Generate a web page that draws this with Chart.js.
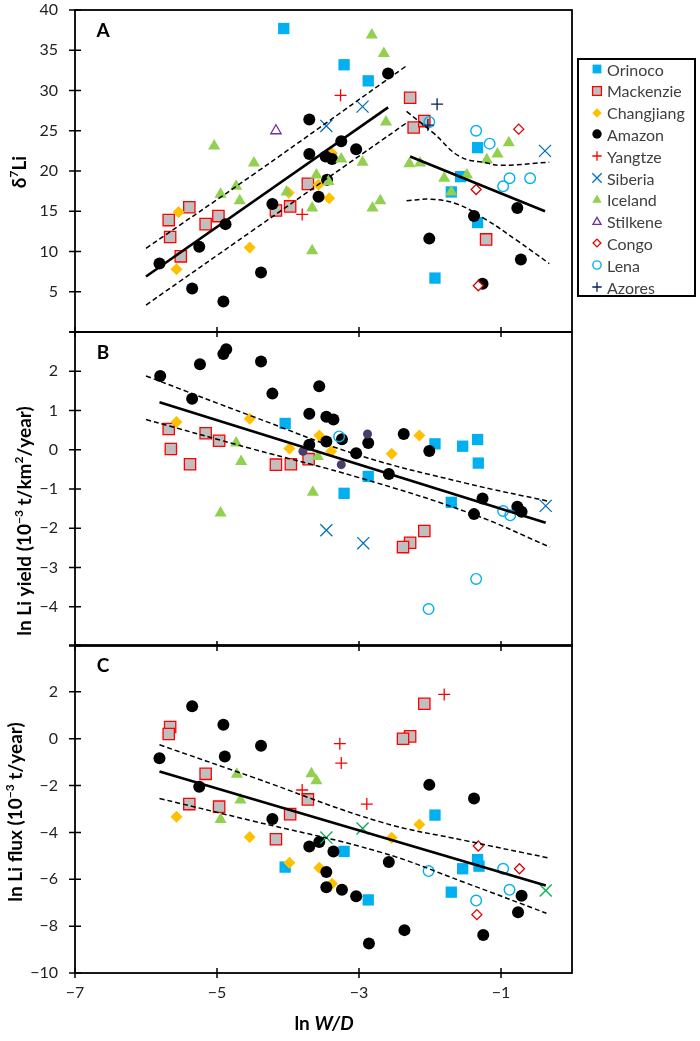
<!DOCTYPE html>
<html lang="en">

<head>
    <meta charset="UTF-8">
    <meta name="viewport" content="width=device-width, initial-scale=1.0">
    <title>Li vs ln W/D</title>

    <style>
        body {
            margin: 0;
            background: #fff;
        }

        .wrap {
            position: relative;
            width: 700px;
            height: 1041px;
            font-family: Lato, "Open Sans", sans-serif;
        }

        .wrap canvas {
            position: absolute;
            left: 0;
            top: 0;
            pointer-events: none;
        }

        #legend {
            position: absolute;
            left: 577px;
            top: 58px;
            width: 115px;
            height: 235px;
            border: 2px solid #000;
            background: #fff;
        }

        .item {
            position: absolute;
            left: 0;
            height: 22px;
            display: flex;
            align-items: center;
            font-size: 16px;
            color: #404040;
        }

        .item canvas {
            position: static;
            margin: 0 2px 0 10px;
        }

        .xtitle {
            position: absolute;
            left: 224px;
            width: 200px;
            top: 1011px;
            text-align: center;
            font-weight: bold;
            font-size: 19px;
            color: #000;
        }
    </style>

</head>

<body>

    <div class="wrap">
        <canvas id="chartA" width="700" height="1041"></canvas>
        <canvas id="chartB" width="700" height="1041"></canvas>
        <canvas id="chartC" width="700" height="1041"></canvas>
        <div id="legend"></div>
        <div class="xtitle">ln <i>W/D</i></div>
    </div>

    <script src="https://cdn.jsdelivr.net/npm/chart.js@4.4.3/dist/chart.umd.min.js"></script>

    <script>
        // axis ticks
        const xTicks = [-7, -5, -3, -1]
        const yTicksA = [0, 5, 10, 15, 20, 25, 30, 35, 40]
        const yLabelsA = [5, 10, 15, 20, 25, 30, 35, 40]
        const yTicksB = [-5, -4, -3, -2, -1, 0, 1, 2, 3]
        const yLabelsB = [-4, -3, -2, -1, 0, 1, 2]
        const yTicksC = [-10, -8, -6, -4, -2, 0, 2, 4]
        const yLabelsC = [-10, -8, -6, -4, -2, 0, 2]

        // ---- panel A : d7Li ----
        const orinocoA = [[-4.06, 37.7], [-3.21, 33.2], [-2.87, 31.2], [-1.33, 22.9], [-1.57, 19.3], [-1.70, 17.4], [-1.33, 13.6], [-1.93, 6.7]]
        const mackenzieA = [[-5.39, 15.5], [-5.68, 13.9], [-5.66, 11.8], [-5.51, 9.4], [-5.16, 13.4], [-4.98, 14.4], [-4.17, 15.1], [-3.97, 15.6], [-3.72, 18.4], [-2.28, 29.1], [-2.23, 25.4], [-2.08, 26.2], [-1.21, 11.5]]
        const changjiangA = [[-5.54, 14.9], [-5.57, 7.8], [-4.54, 10.5], [-3.57, 18.3], [-3.99, 17.3], [-3.42, 16.6], [-3.38, 22.2]]
        const amazonA = [[-5.81, 8.5], [-5.35, 5.4], [-4.91, 3.8], [-5.25, 10.6], [-4.88, 13.4], [-4.38, 7.4], [-4.22, 15.9], [-3.70, 26.4], [-3.70, 22.1], [-3.47, 21.8], [-3.38, 21.5], [-3.25, 23.7], [-3.04, 22.7], [-3.57, 16.8], [-3.45, 18.9], [-2.59, 32.1], [-0.77, 15.4], [-1.38, 14.4], [-2.01, 11.6], [-0.72, 9.0], [-1.26, 6.0]]
        const yangtzeA = [[-3.26, 29.4], [-3.80, 14.6]]
        const siberiaA = [[-3.46, 25.6], [-2.95, 28.0], [-0.38, 22.5]]
        const icelandA = [[-5.04, 23.1], [-4.48, 21.0], [-4.73, 18.1], [-4.95, 17.1], [-4.68, 16.3], [-4.02, 17.4], [-3.66, 15.4], [-3.66, 10.1], [-3.60, 19.5], [-3.43, 18.7], [-3.25, 21.5], [-2.95, 21.1], [-2.82, 36.9], [-2.81, 15.4], [-2.70, 16.3], [-2.65, 34.6], [-2.62, 26.1], [-2.29, 20.9], [-2.14, 21.0], [-1.80, 19.1], [-1.70, 17.4], [-1.48, 19.5], [-1.20, 21.4], [-1.05, 22.1], [-0.89, 23.5]]
        const stilkeneA = [[-4.17, 25.0]]
        const congoA = [[-0.75, 25.2], [-1.35, 17.7], [-1.32, 5.75]]
        const lenaA = [[-2.01, 26.1], [-1.35, 25.0], [-1.16, 23.4], [-0.88, 19.1], [-0.97, 18.1], [-0.59, 19.1]]
        const azoresA = [[-1.90, 28.3], [-2.03, 25.7]]

        const fitA1 = [[-6.0, 6.9], [-2.59, 27.9]]
        const upperA1 = [[-6.0, 10.4], [-4.5, 19.5], [-2.31, 33.2]]
        const lowerA1 = [[-6.0, 3.35], [-4.5, 12.6], [-2.31, 26.1]]
        const fitA2 = [[-2.28, 21.8], [-0.38, 15.0]]
        const upperA2 = [[-2.33, 27.4], [-1.95, 24.7], [-1.58, 21.8], [-1.20, 21.0], [-1.01, 20.7], [-0.32, 21.1]]
        const lowerA2 = [[-2.33, 16.3], [-2.0, 16.5], [-1.62, 15.9], [-1.20, 13.9], [-0.78, 11.4], [-0.32, 8.5]]

        // ---- panel B : ln Li yield ----
        const orinocoB = [[-4.04, 0.67], [-2.87, -0.68], [-3.21, -1.11], [-1.93, 0.15], [-1.54, 0.09], [-1.33, 0.26], [-1.32, -0.34], [-1.70, -1.34]]
        const mackenzieB = [[-5.68, 0.53], [-5.65, 0.02], [-5.38, -0.37], [-5.16, 0.42], [-4.97, 0.23], [-4.17, -0.38], [-3.96, -0.37], [-3.71, -0.24], [-2.08, -2.07], [-2.28, -2.37], [-2.38, -2.48]]
        const changjiangB = [[-5.57, 0.71], [-4.54, 0.79], [-3.98, 0.03], [-3.56, 0.36], [-3.39, -0.04], [-2.15, 0.36], [-2.54, -0.10]]
        const amazonB = [[-5.80, 1.88], [-5.24, 2.18], [-5.35, 1.30], [-4.87, 2.56], [-4.91, 2.44], [-4.38, 2.25], [-4.22, 1.43], [-3.56, 1.62], [-3.70, 0.92], [-3.46, 0.84], [-3.36, 0.77], [-3.70, 0.13], [-3.46, 0.21], [-3.24, 0.27], [-3.04, -0.09], [-2.87, 0.17], [-2.37, 0.40], [-2.01, -0.03], [-2.58, -0.62], [-1.26, -1.24], [-1.38, -1.64], [-0.77, -1.45], [-0.71, -1.58]]
        const otherB = [[-3.79, -0.04], [-3.25, -0.38], [-2.88, 0.40]]
        const siberiaB = [[-3.46, -2.05], [-2.94, -2.38], [-0.37, -1.43]]
        const icelandB = [[-4.73, 0.17], [-4.66, -0.30], [-4.95, -1.61], [-3.58, -0.17], [-3.65, -1.08]]
        const lenaB = [[-3.28, 0.34], [-0.97, -1.56], [-0.87, -1.67], [-1.35, -3.29], [-2.02, -4.06]]

        const fitB = [[-5.81, 1.21], [-0.37, -1.86]]
        const upperB = [[-6.0, 1.88], [-4.5, 0.85], [-3.0, -0.14], [-1.5, -0.85], [-0.31, -1.32]]
        const lowerB = [[-6.0, 0.77], [-4.5, 0.02], [-3.0, -0.71], [-1.4, -1.64], [-0.31, -2.48]]

        // ---- panel C : ln Li flux ----
        const orinocoC = [[-4.04, -5.48], [-3.21, -4.81], [-2.87, -6.88], [-1.93, -3.26], [-1.54, -5.55], [-1.33, -5.16], [-1.31, -5.44], [-1.70, -6.55]]
        const mackenzieC = [[-5.66, 0.50], [-5.68, 0.20], [-5.16, -1.50], [-5.39, -2.79], [-4.97, -2.90], [-3.72, -2.59], [-3.97, -3.22], [-4.17, -4.29], [-2.08, 1.49], [-2.28, 0.10], [-2.38, 0.00]]
        const changjiangC = [[-5.57, -3.33], [-4.54, -4.19], [-3.98, -5.29], [-3.56, -5.51], [-3.38, -6.19], [-2.15, -3.66], [-2.54, -4.23]]
        const amazonC = [[-5.35, 1.39], [-4.91, 0.60], [-4.38, -0.30], [-5.81, -0.83], [-4.89, -0.76], [-5.25, -2.05], [-4.22, -3.43], [-3.70, -4.60], [-3.56, -4.41], [-3.36, -4.81], [-3.46, -5.69], [-3.46, -6.34], [-3.24, -6.45], [-3.04, -6.72], [-2.58, -5.26], [-2.01, -1.97], [-1.38, -2.55], [-0.71, -6.70], [-0.76, -7.41], [-2.86, -8.74], [-2.36, -8.17], [-1.25, -8.38]]
        const yangtzeC = [[-3.27, -0.21], [-3.25, -1.04], [-3.80, -2.19], [-2.89, -2.79], [-1.80, 1.89]]
        const siberiaC = [[-3.46, -4.22], [-2.95, -3.83], [-0.37, -6.48]]
        const icelandC = [[-4.72, -1.52], [-4.67, -2.62], [-4.95, -3.45], [-3.67, -1.50], [-3.60, -1.79]]
        const congoC = [[-1.32, -4.58], [-0.74, -5.55], [-1.34, -7.51]]
        const lenaC = [[-2.02, -5.65], [-0.97, -5.55], [-0.88, -6.45], [-1.35, -6.91]]

        const fitC = [[-5.81, -1.40], [-0.37, -6.27]]
        const upperC = [[-5.81, -0.26], [-4.5, -1.64], [-2.7, -3.55], [-1.5, -4.35], [-0.33, -5.09]]
        const lowerC = [[-5.81, -2.55], [-4.5, -3.51], [-2.7, -4.84], [-1.5, -6.15], [-0.36, -7.45]]

        // marker looks
        const styles = {
            Orinoco: { pointStyle: 'rect', radius: 8, bg: '#00B0F0', border: '#00B0F0', bw: 0 },
            Mackenzie: { pointStyle: 'rect', radius: 8, bg: '#BFBFBF', border: '#FF0000', bw: 1.3 },
            Changjiang: { pointStyle: 'rectRot', radius: 6, bg: '#FFC000', border: '#FFC000', bw: 0 },
            Amazon: { pointStyle: 'circle', radius: 6, bg: '#000000', border: '#000000', bw: 0 },
            Yangtze: { pointStyle: 'cross', radius: 6, bg: '#FF0000', border: '#FF0000', bw: 1.3 },
            Siberia: { pointStyle: 'crossRot', radius: 8.5, bg: '#0070C0', border: '#0070C0', bw: 1.3 },
            SiberiaC: { pointStyle: 'crossRot', radius: 8.5, bg: '#00B050', border: '#00B050', bw: 1.3 },
            Iceland: { pointStyle: 'triangle', radius: 7, bg: '#92D050', border: '#92D050', bw: 0 },
            Stilkene: { pointStyle: 'triangle', radius: 6, bg: '#FFFFFF', border: '#7030A0', bw: 1.3 },
            Congo: { pointStyle: 'rectRot', radius: 5, bg: '#FFFFFF', border: '#E00000', bw: 1.3 },
            Lena: { pointStyle: 'circle', radius: 5.3, bg: 'rgba(0,0,0,0)', border: '#00B0F0', bw: 1.4 },
            Azores: { pointStyle: 'cross', radius: 6, bg: '#002060', border: '#002060', bw: 1.3 },
            Other: { pointStyle: 'circle', radius: 4.5, bg: '#4B3D6B', border: '#4B3D6B', bw: 0 },
        }
        const legendNames = ['Orinoco', 'Mackenzie', 'Changjiang', 'Amazon', 'Yangtze', 'Siberia', 'Iceland', 'Stilkene', 'Congo', 'Lena', 'Azores']

        const FONT = 'Lato, "Open Sans", sans-serif'
        const minus = v => v < 0 ? '\u2212' + Math.abs(v) : String(v)

        function pts(arr) {
            return arr.map(p => ({ x: p[0], y: p[1] }))
        }

        // draws text with superscripts, rotated for y titles
        function drawRich(ctx, parts, cx, cy, size, rotate) {
            const f = p => `bold ${p.sup ? Math.round(size * 0.62) : size}px ${FONT}`
            let w = 0
            parts.forEach(p => { ctx.font = f(p); w += ctx.measureText(p.t).width })
            ctx.save()
            ctx.translate(cx, cy)
            if (rotate) ctx.rotate(-Math.PI / 2)
            ctx.fillStyle = '#000'
            ctx.textBaseline = 'middle'
            ctx.textAlign = 'left'
            let x = -w / 2
            parts.forEach(p => {
                ctx.font = f(p)
                ctx.fillText(p.t, x, p.sup ? -size * 0.33 : 0)
                x += ctx.measureText(p.t).width
            })
            ctx.restore()
        }

        const panelDeco = {
            id: 'panelDeco',
            afterDraw(chart, args, opts) {
                const { ctx, chartArea: a, scales } = chart
                ctx.save()
                ctx.strokeStyle = '#000'
                ctx.lineWidth = 1.8
                ctx.strokeRect(a.left, a.top, a.right - a.left, a.bottom - a.top)
                ctx.lineWidth = 1.5
                ctx.beginPath()
                xTicks.forEach(v => {
                    const px = scales.x.getPixelForValue(v)
                    ctx.moveTo(px, a.bottom - 5)
                    ctx.lineTo(px, a.bottom + 5)
                })
                opts.yTicks.forEach(v => {
                    const py = scales.y.getPixelForValue(v)
                    ctx.moveTo(a.left - 6, py)
                    ctx.lineTo(a.left + 6, py)
                })
                ctx.stroke()
                ctx.fillStyle = '#000'
                ctx.font = `bold 19px ${FONT}`
                ctx.textAlign = 'center'
                ctx.textBaseline = 'middle'
                ctx.fillText(opts.letter, a.left + 28, a.top + 21)
                drawRich(ctx, opts.title, opts.titleX, opts.titleY, 19, true)
                ctx.restore()
            }
        }

        function makeChart(id, cfg) {
            const datasets = []
            cfg.series.forEach(([name, arr, styleKey], i) => {
                const st = styles[styleKey || name]
                datasets.push({
                    label: name,
                    data: pts(arr),
                    pointStyle: st.pointStyle,
                    pointRadius: st.radius,
                    pointBackgroundColor: st.bg,
                    pointBorderColor: st.border,
                    pointBorderWidth: st.bw,
                    showLine: false,
                    clip: false,
                    order: 100 - i,
                })
            })
            cfg.fits.forEach(([arr, dashed]) => {
                datasets.push({
                    label: '',
                    data: pts(arr),
                    showLine: true,
                    borderColor: '#000',
                    borderWidth: dashed ? 1.5 : 2.6,
                    borderDash: dashed ? [5, 3] : [],
                    pointRadius: 0,
                    tension: dashed ? 0.4 : 0,
                    fill: false,
                    clip: false,
                    order: 0,
                })
            })

            new Chart(document.getElementById(id), {
                type: 'scatter',
                data: { datasets },
                options: {
                    responsive: false,
                    animation: false,
                    events: [],
                    layout: { padding: { left: 0, right: 128, top: cfg.top, bottom: cfg.bottom } },
                    scales: {
                        x: {
                            type: 'linear',
                            min: -7,
                            max: 0,
                            afterBuildTicks: s => { s.ticks = xTicks.map(v => ({ value: v })) },
                            afterFit: s => {
                                s.height = cfg.showX ? 68 : 0
                                s.paddingLeft = 0
                                s.paddingRight = 0
                            },
                            grid: { display: false, drawTicks: false },
                            border: { display: false },
                            ticks: {
                                display: cfg.showX,
                                autoSkip: false,
                                maxRotation: 0,
                                padding: 10,
                                color: '#222',
                                font: { family: FONT, size: 16 },
                                callback: v => minus(v),
                            },
                        },
                        y: {
                            type: 'linear',
                            min: cfg.yMin,
                            max: cfg.yMax,
                            afterBuildTicks: s => { s.ticks = cfg.yTicks.map(v => ({ value: v })) },
                            afterFit: s => {
                                s.width = 75
                                s.paddingTop = 0
                                s.paddingBottom = 0
                            },
                            grid: { display: false, drawTicks: false },
                            border: { display: false },
                            ticks: {
                                autoSkip: false,
                                padding: 17,
                                color: '#222',
                                font: { family: FONT, size: 16 },
                                callback: v => cfg.yLabels.includes(v) ? minus(v) : '',
                            },
                        },
                    },
                    plugins: {
                        legend: { display: false },
                        tooltip: { enabled: false },
                        panelDeco: {
                            yTicks: cfg.yTicks,
                            letter: cfg.letter,
                            title: cfg.title,
                            titleX: cfg.titleX,
                            titleY: cfg.titleY,
                        },
                    },
                },
                plugins: [panelDeco],
            })
        }

        makeChart('chartA', {
            series: [
                ['Orinoco', orinocoA], ['Mackenzie', mackenzieA], ['Changjiang', changjiangA], ['Amazon', amazonA],
                ['Yangtze', yangtzeA], ['Siberia', siberiaA], ['Iceland', icelandA], ['Stilkene', stilkeneA],
                ['Congo', congoA], ['Lena', lenaA], ['Azores', azoresA],
            ],
            fits: [[fitA1, false], [upperA1, true], [lowerA1, true], [fitA2, false], [upperA2, true], [lowerA2, true]],
            yMin: 0, yMax: 40, yTicks: yTicksA, yLabels: yLabelsA,
            top: 10, bottom: 1041 - 332, showX: false, letter: 'A',
            title: [{ t: 'δ' }, { t: '7', sup: true }, { t: 'Li' }], titleX: 20, titleY: 172,
        })

        makeChart('chartB', {
            series: [
                ['Orinoco', orinocoB], ['Mackenzie', mackenzieB], ['Changjiang', changjiangB], ['Amazon', amazonB],
                ['Other', otherB], ['Siberia', siberiaB], ['Iceland', icelandB], ['Lena', lenaB],
            ],
            fits: [[fitB, false], [upperB, true], [lowerB, true]],
            yMin: -5, yMax: 3, yTicks: yTicksB, yLabels: yLabelsB,
            top: 332, bottom: 1041 - 646, showX: false, letter: 'B',
            title: [{ t: 'ln Li yield (10' }, { t: '\u22123', sup: true }, { t: ' t/km' }, { t: '2', sup: true }, { t: '/year)' }],
            titleX: 25, titleY: 521,
        })

        makeChart('chartC', {
            series: [
                ['Orinoco', orinocoC], ['Mackenzie', mackenzieC], ['Changjiang', changjiangC], ['Amazon', amazonC],
                ['Yangtze', yangtzeC], ['Siberia', siberiaC, 'SiberiaC'], ['Iceland', icelandC],
                ['Congo', congoC], ['Lena', lenaC],
            ],
            fits: [[fitC, false], [upperC, true], [lowerC, true]],
            yMin: -10, yMax: 4, yTicks: yTicksC, yLabels: yLabelsC,
            top: 645, bottom: 0, showX: true, letter: 'C',
            title: [{ t: 'ln Li flux (10' }, { t: '\u22123', sup: true }, { t: ' t/year)' }],
            titleX: 16, titleY: 812,
        })

        // legend box
        const legend = document.getElementById('legend')
        legendNames.forEach((name, i) => {
            const st = styles[name]
            const row = document.createElement('div')
            row.className = 'item'
            row.style.top = (-2 + i * 21.8) + 'px'
            const c = document.createElement('canvas')
            c.width = 16
            c.height = 16
            const ctx = c.getContext('2d')
            ctx.fillStyle = st.bg
            ctx.strokeStyle = st.border
            ctx.lineWidth = st.bw
            if (Chart.helpers && Chart.helpers.drawPoint) {
                Chart.helpers.drawPoint(ctx, { pointStyle: st.pointStyle, radius: st.radius * 0.78, rotation: 0, borderWidth: st.bw }, 8, 8)
            }
            row.appendChild(c)
            const t = document.createElement('span')
            t.textContent = name
            row.appendChild(t)
            legend.appendChild(row)
        })
    </script>

</body>

</html>
